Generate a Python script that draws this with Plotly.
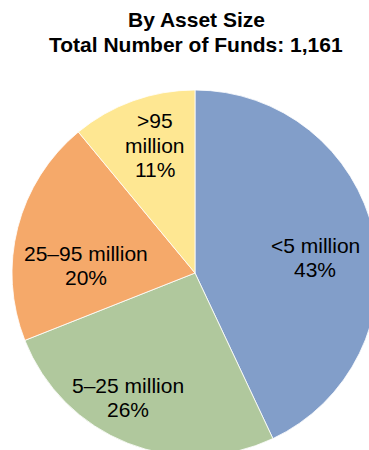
import plotly.graph_objects as go

categories = ["<5 million", "5–25 million", "25–95 million", ">95 million"]
label_lines = [["<5 million"], ["5–25 million"], ["25–95 million"], [">95", "million"]]
shares = [43, 26, 20, 11]
colors = ["#829ec9", "#b0c89d", "#f5a96a", "#fee792"]
title_lines = ["By Asset Size", "Total Number of Funds: 1,161"]

W, H = 380, 460
cx, cy, r = 195, 273, 183
FONT = "Liberation Sans, Arial, sans-serif"

# label block layout (pixel centre x, first-line middle y), line step in px
label_pos = [(315, 245), (128, 385), (86, 253), (155, 121)]
line_step = 24

fig = go.Figure(go.Pie(
    labels=categories,
    values=shares,
    textinfo="none",
    marker=dict(colors=colors, line=dict(color="white", width=0.8)),
    sort=False,
    direction="clockwise",
    rotation=0,
    showlegend=False,
    hoverinfo="label+percent",
    domain=dict(x=[(cx - r) / W, (cx + r) / W], y=[(H - cy - r) / H, (H - cy + r) / H]),
))

annotations = []
for lines, share, (px, py) in zip(label_lines, shares, label_pos):
    for i, t in enumerate(lines + [f"{share}%"]):
        annotations.append(dict(
            text=t, x=px / W, y=1 - (py + i * line_step) / H,
            xref="paper", yref="paper", xanchor="center", yanchor="middle",
            showarrow=False, font=dict(family=FONT, size=21, color="black"),
        ))
for i, t in enumerate(title_lines):
    annotations.append(dict(
        text=f"<b>{t}</b>", x=196 / W, y=1 - (20 + i * 25) / H,
        xref="paper", yref="paper", xanchor="center", yanchor="middle",
        showarrow=False, font=dict(family=FONT, size=21, color="black"),
    ))

fig.update_layout(
    width=W, height=H,
    margin=dict(l=0, r=0, t=0, b=0),
    paper_bgcolor="white",
    annotations=annotations,
)

fig.write_html(
    "out.html",
    post_script="document.body.style.margin='0';document.body.style.overflow='hidden';document.documentElement.style.overflow='hidden';",
)
